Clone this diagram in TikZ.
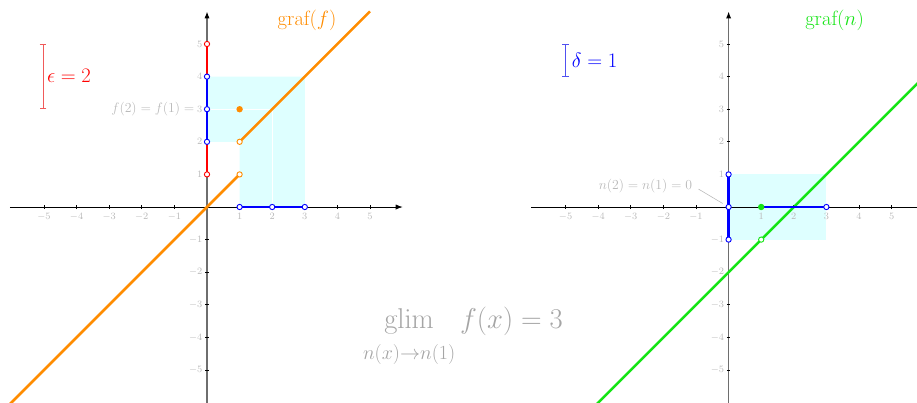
\documentclass[tikz,border=0pt]{standalone}
\usepackage{fix-cm}
\usetikzlibrary{arrows.meta,positioning}
\definecolor{AxisGray}{RGB}{110,110,110}
\definecolor{TickGray}{RGB}{185,185,185}
\definecolor{LimGray}{RGB}{165,165,165}
\definecolor{NeighCyan}{RGB}{222,255,255}
\definecolor{GraphOrange}{RGB}{255,140,0}
\definecolor{GraphGreen}{RGB}{20,228,20}
\definecolor{SoftRed}{RGB}{240,90,90}
\definecolor{SoftBlue}{RGB}{80,80,240}
\tikzset{
  axis/.style={-{Latex[length=6pt,width=4.5pt]},black,line width=0.6pt},
  yaxis/.style={-{Latex[length=6pt,width=4.5pt,color=black]},AxisGray,line width=1.1pt},
  tickmark/.style={black,line width=0.8pt},
  ticklbl/.style={text=TickGray,font=\fontsize{8.5}{10}\selectfont,inner sep=1pt},
  note/.style={text=TickGray,font=\fontsize{12}{14}\selectfont,inner sep=1pt},
  graph/.style={line width=2.2pt},
  seg/.style={line width=2.4pt,blue},
  hole/.style={circle,draw,fill=white,inner sep=0pt,minimum size=4.6pt,line width=0.8pt},
  dot/.style={circle,fill,inner sep=0pt,minimum size=5.6pt},
  bar/.style={{Bar[width=6pt]}-{Bar[width=6pt]},line width=0.8pt},
  bigtag/.style={font=\fontsize{18}{22}\selectfont,inner sep=1pt},
  limtext/.style={text=LimGray,font=\fontsize{25}{30}\selectfont}
}

\begin{document}
\begin{tikzpicture}
  \useasboundingbox (-6.35,-6.012) rectangle (21.779,6.35);
  \clip (-6.35,-6.012) rectangle (21.779,6.35);

  % graf(f): neighbourhoods
  \fill[NeighCyan] (0,2) -- (0,4) -- (3,4) -- (3,0) -- (1,0) -- (1,2) -- cycle;
  \draw[white,line width=1.2pt] (0,3) -- (2,3) -- (2,0);

  \draw[axis] (-6.05,0) -- (6,0);
  \draw[yaxis] (0,-6.1) -- (0,6);
  \foreach \i in {-5,-4,-3,-2,-1,1,2,3,4,5} {
    \draw[tickmark] (\i,-0.05) -- (\i,0.05);
    \draw[tickmark] (-0.05,\i) -- (0.05,\i);
    \node[ticklbl] (Lx\i) at (\i,-0.29) {$\i$};
    \node[ticklbl,anchor=east] (Ly\i) at (-0.1,\i) {$\i$};
  }
  \node[note,anchor=east] (flab) at (Ly3.west) {$f(2)=f(1)=$};

  \coordinate (fA) at (-6.5,-6.5);
  \coordinate (fB) at (1,1);
  \coordinate (fC) at (1,2);
  \coordinate (fD) at (5,6);
  \draw[graph,GraphOrange] (fA) -- (fB);
  \draw[graph,GraphOrange] (fC) -- (fD);

  \coordinate (e1) at (0,1);
  \coordinate (e5) at (0,5);
  \coordinate (v2) at (0,2);
  \coordinate (v3) at (0,3);
  \coordinate (v4) at (0,4);
  \coordinate (u1) at (1,0);
  \coordinate (u2) at (2,0);
  \coordinate (u3) at (3,0);
  \draw[seg,red] (e1) -- (e5);
  \draw[seg] (v2) -- (v4);
  \draw[seg] (u1) -- (u3);
  \node[hole,draw=red] (he1) at (e1) {};
  \node[hole,draw=red] (he5) at (e5) {};
  \node[hole,draw=blue] (hv2) at (v2) {};
  \node[hole,draw=blue] (hv3) at (v3) {};
  \node[hole,draw=blue] (hv4) at (v4) {};
  \node[hole,draw=blue] (hu1) at (u1) {};
  \node[hole,draw=blue] (hu2) at (u2) {};
  \node[hole,draw=blue] (hu3) at (u3) {};
  \node[hole,draw=GraphOrange] (hfB) at (fB) {};
  \node[hole,draw=GraphOrange] (hfC) at (fC) {};
  \node[dot,GraphOrange] (pf1) at (1,3) {};

  \draw[bar,SoftRed] (-5.03,3) -- (-5.03,5);
  \node[bigtag,text=red,anchor=west] (epslab) at (-4.95,4.03) {$\epsilon=2$};
  \node[bigtag,text=GraphOrange] (gf) at (3.07,5.74) {graf$(f)$};

  % graf(n)
  \begin{scope}[shift={(16,0)}]
    \fill[NeighCyan] (0,-1) rectangle (3,1);

    \draw[axis] (-6.05,0) -- (6,0);
    \draw[yaxis] (0,-6.1) -- (0,6);
    \foreach \i in {-5,-4,-3,-2,-1,1,2,3,4,5} {
      \draw[tickmark] (\i,-0.05) -- (\i,0.05);
      \draw[tickmark] (-0.05,\i) -- (0.05,\i);
      \node[ticklbl] (Rx\i) at (\i,-0.29) {$\i$};
      \node[ticklbl,anchor=east] (Ry\i) at (-0.1,\i) {$\i$};
    }
    \coordinate (Ro) at (0,0);
    \node[note] (nlab) at (-2.55,0.64) {$n(2)=n(1)=0$};
    \draw[TickGray,line width=0.5pt,shorten <=5pt,shorten >=6pt] (nlab.east) -- (Ro);

    \coordinate (nA) at (-4.3,-6.3);
    \coordinate (nB) at (6.3,4.3);
    \draw[graph,GraphGreen] (nA) -- (nB);

    \coordinate (w1) at (0,-1);
    \coordinate (w3) at (0,1);
    \coordinate (z1) at (1,0);
    \coordinate (z3) at (3,0);
    \draw[seg] (w1) -- (w3);
    \draw[seg] (z1) -- (z3);
    \node[hole,draw=blue] (hw1) at (w1) {};
    \node[hole,draw=blue] (hw2) at (Ro) {};
    \node[hole,draw=blue] (hw3) at (w3) {};
    \node[hole,draw=blue] (hz3) at (z3) {};
    \node[hole,draw=GraphGreen] (hn1) at (1,-1) {};
    \node[dot,GraphGreen] (pn1) at (z1) {};

    \draw[bar,SoftBlue] (-5,4) -- (-5,5);
    \node[bigtag,text=blue,anchor=west] (dellab) at (-4.85,4.5) {$\delta=1$};
    \node[bigtag,text=GraphGreen] (gn) at (3.25,5.74) {graf$(n)$};
  \end{scope}

  \node[limtext,anchor=base] (glim) at (7.85,-3.74)
    {$\displaystyle\mathop{\mathrm{glim}}\limits_{\rule{0pt}{20pt}n(x)\to n(1)} f(x)=3$};
\end{tikzpicture}
\end{document}
